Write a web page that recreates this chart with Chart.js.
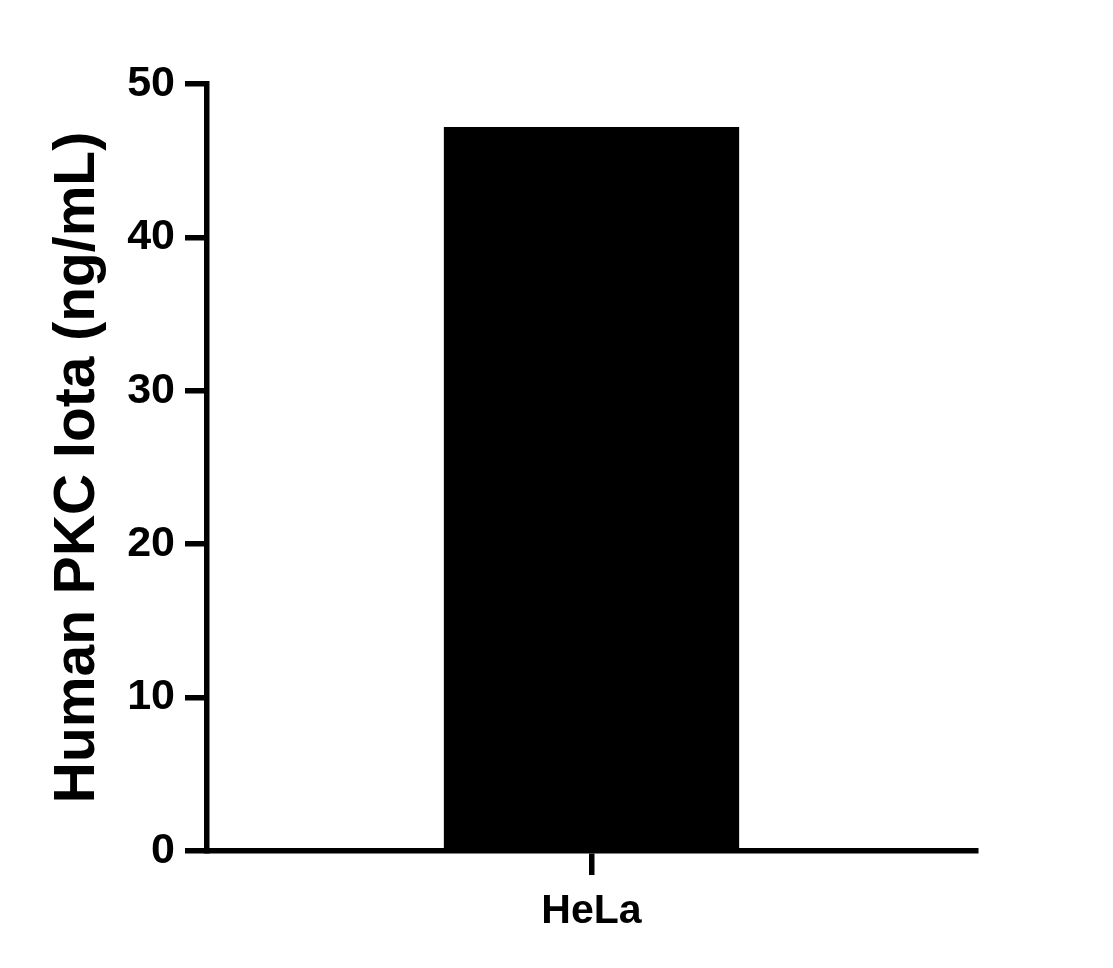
<!DOCTYPE html>
<html>
<head>
<meta charset="utf-8">
<script src="https://cdn.jsdelivr.net/npm/chart.js@4.4.1/dist/chart.umd.min.js"></script>
<style>
  html, body { margin: 0; padding: 0; background: #fff; }
  canvas { display: block; }
</style>
</head>
<body>
<canvas id="chart" width="1113" height="968"></canvas>
<script>
const categories = ['HeLa'];
const values = [47.2];
const yTitle = 'Human PKC Iota (ng/mL)';
const yMin = 0, yMax = 50, yStep = 10;

const FONT = '"Liberation Sans", Arial, Helvetica, sans-serif';

new Chart(document.getElementById('chart').getContext('2d'), {
  type: 'bar',
  data: {
    labels: categories,
    datasets: [{ data: values, backgroundColor: '#000', borderWidth: 0, barPercentage: 0.384, categoryPercentage: 1 }]
  },
  options: {
    responsive: false,
    animation: false,
    devicePixelRatio: 1,
    layout: { padding: { top: 84, right: 137, bottom: 0, left: 0 } },
    plugins: { legend: { display: false }, tooltip: { enabled: false } },
    scales: {
      x: {
        grid: { offset: false, drawOnChartArea: false, drawTicks: true, tickLength: 24, lineWidth: 5.5, color: '#000' },
        border: { display: true, width: 5.5, color: '#000' },
        ticks: { color: '#000', padding: 12, font: { family: FONT, size: 41, weight: 'bold' } },
        afterFit: s => { s.height = 117; }
      },
      y: {
        min: yMin, max: yMax,
        grid: { drawOnChartArea: false, drawTicks: true, tickLength: 22, lineWidth: 5.5, color: '#000' },
        border: { display: true, width: 5.5, color: '#000' },
        ticks: { stepSize: yStep, color: '#000', padding: 10, font: { family: FONT, size: 43, weight: 'bold' } },
        title: { display: true, text: yTitle, color: '#000', padding: { top: 44, bottom: 0 }, font: { family: FONT, size: 57, weight: 'bold' } },
        afterFit: s => { s.width = 207; }
      }
    }
  }
});
</script>
</body>
</html>
